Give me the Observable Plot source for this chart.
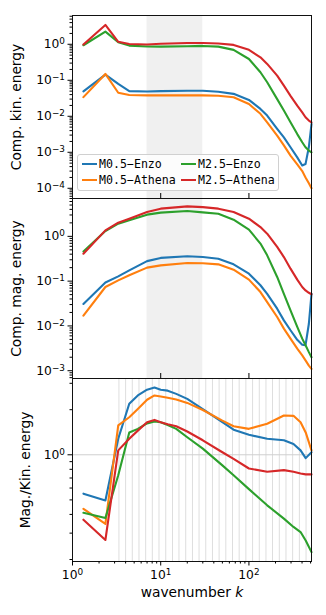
<!DOCTYPE html>
<html><head><meta charset="utf-8">
<script src="https://cdn.jsdelivr.net/npm/d3@7"></script>
<script src="https://cdn.jsdelivr.net/npm/@observablehq/plot@0.6"></script>
<style>
html,body{margin:0;padding:0;background:#fff;}
#wrap{position:relative;width:326px;height:615px;overflow:hidden;}
#wrap svg{display:block;}
#legend{position:absolute;left:77px;top:154px;width:202px;height:37px;box-sizing:border-box;background:rgba(255,255,255,0.8);border:1px solid #d0d0d0;border-radius:3px;font-family:"DejaVu Sans Mono",monospace;font-size:11.6px;color:#000;}
.item{position:absolute;display:flex;align-items:center;height:14px;white-space:nowrap;}
.sw{display:inline-block;width:15px;height:2px;margin-right:2px;}
</style></head><body>
<div id="wrap"></div>
<script>
// ---- data ----
const series = ["M0.5-Enzo", "M0.5-Athena", "M2.5-Enzo", "M2.5-Athena"];
const colors = ["#1f77b4", "#ff7f0e", "#2ca02c", "#d62728"];

const kKin = [1.33, 2.36, 3.3, 4.4, 7, 10, 20, 30, 45, 67, 100, 135, 161, 209, 249, 296, 353, 402, 438, 478, 512];
const kinM05Enzo   = [0.049, 0.144, 0.079, 0.050, 0.049, 0.050, 0.051, 0.051, 0.048, 0.042, 0.0285, 0.016, 0.0105, 0.0045, 0.0026, 0.00138, 0.00072, 0.00043, 0.00047, 0.0014, 0.0061];
const kinM05Athena = [0.034, 0.150, 0.045, 0.039, 0.038, 0.038, 0.038, 0.038, 0.037, 0.0337, 0.022, 0.0117, 0.0068, 0.0029, 0.00155, 0.00081, 0.00046, 0.0003, 0.0002, 0.000137, 0.0001];
const kinM25Enzo   = [0.94, 2.25, 1.14, 0.92, 0.87, 0.86, 0.88, 0.90, 0.86, 0.70, 0.39, 0.167, 0.088, 0.030, 0.0144, 0.0068, 0.0032, 0.0019, 0.00138, 0.00112, 0.001];
const kinM25Athena = [0.98, 3.45, 1.17, 1.02, 0.99, 1.03, 1.08, 1.08, 1.05, 0.96, 0.70, 0.435, 0.285, 0.135, 0.071, 0.037, 0.0198, 0.0129, 0.0094, 0.0076, 0.0068];

const kMag = [1.33, 2.36, 3.3, 4.4, 7, 10, 20, 30, 45, 67, 100, 135, 161, 209, 249, 296, 353, 402, 438, 478, 512];
const magM05Enzo   = [0.031, 0.093, 0.128, 0.174, 0.28, 0.33, 0.36, 0.345, 0.317, 0.237, 0.147, 0.081, 0.052, 0.0243, 0.0133, 0.008, 0.0049, 0.0038, 0.0037, 0.0112, 0.052];
const magM05Athena = [0.017, 0.074, 0.104, 0.135, 0.2, 0.225, 0.254, 0.25, 0.237, 0.18, 0.108, 0.057, 0.034, 0.0158, 0.0087, 0.0052, 0.0031, 0.0022, 0.0017, 0.0013, 0.0011];
const magM25Enzo   = [0.46, 1.31, 1.92, 2.28, 3.05, 3.38, 3.67, 3.43, 3.2, 2.36, 1.41, 0.69, 0.377, 0.124, 0.052, 0.0223, 0.0095, 0.0052, 0.0037, 0.0026, 0.002];
const magM25Athena = [0.41, 1.36, 2.02, 2.48, 3.49, 4.15, 4.67, 4.5, 4.15, 3.49, 2.48, 1.61, 1.15, 0.58, 0.345, 0.19, 0.108, 0.074, 0.062, 0.055, 0.051];

const kRatio = [1.33, 2.36, 3.3, 4.4, 5.5, 7, 8.5, 10, 12, 15, 20, 30, 50, 67, 100, 161, 249, 320, 385, 440, 512];
const ratioM05Enzo   = [0.55, 0.496, 1.28, 2.19, 2.49, 2.72, 2.81, 2.72, 2.68, 2.55, 2.36, 2.02, 1.65, 1.47, 1.36, 1.28, 1.25, 1.18, 1.07, 0.95, 1.04];
const ratioM05Athena = [0.436, 0.346, 1.57, 1.78, 2.02, 2.33, 2.49, 2.45, 2.40, 2.34, 2.22, 1.99, 1.69, 1.55, 1.49, 1.61, 1.83, 1.82, 1.65, 1.41, 1.07];
const ratioM25Enzo   = [0.41, 0.378, 0.73, 1.41, 1.49, 1.62, 1.67, 1.65, 1.58, 1.49, 1.31, 1.1, 0.85, 0.73, 0.59, 0.46, 0.375, 0.33, 0.305, 0.268, 0.224];
const ratioM25Athena = [0.369, 0.27, 1.07, 1.28, 1.45, 1.65, 1.71, 1.65, 1.60, 1.55, 1.43, 1.25, 1.04, 0.94, 0.81, 0.77, 0.79, 0.77, 0.75, 0.74, 0.74];

const shadeRange = [7, 30];
const gridK = [3.36, 4.00, 4.76, 5.67, 6.75, 8.03, 9.56, 11.4, 13.6, 16.1, 19.2, 22.9, 27.2, 32.4, 38.6, 45.9, 54.7, 65.1, 77.5, 92.3, 110, 131, 156, 185, 221, 263, 313, 373, 444];

const xMajor = [1, 10, 100];
const kinMajor = [1e-4, 1e-3, 1e-2, 1e-1, 1];
const magMajor = [1e-3, 1e-2, 1e-1, 1];
const ratioMajor = [1];
const ratioMinor = [0.2, 0.3, 0.4, 0.5, 0.6, 0.7, 0.8, 0.9, 2, 3];
const labels = {kin: "Comp. kin. energy", mag: "Comp. mag. energy", ratio: "Mag./Kin. energy", x: "wavenumber k"};

// ---- helpers ----
function rowsOf(k, arrays) {
  const out = [];
  arrays.forEach((arr, i) => arr.forEach((v, j) => out.push({s: series[i], k: k[j], v})));
  return out;
}
function minorTicks(lo, hi) {
  const t = [];
  for (let e = Math.floor(Math.log10(lo)); e <= Math.ceil(Math.log10(hi)); e++)
    for (let m = 2; m <= 9; m++) { const v = m * Math.pow(10, e); if (v >= lo && v <= hi) t.push(v); }
  return t;
}
const fmtPow = d => "10^" + Math.round(Math.log10(d));
const blank = () => "";
function fixText(svg) {
  d3.select(svg).selectAll("text").each(function () {
    const t = this.textContent;
    const m = /^10\^(-?\d+)$/.exec(t);
    const sel = d3.select(this);
    if (m) {
      sel.text("10");
      sel.append("tspan").attr("dy", "-0.45em").attr("font-size", "0.72em").text(m[1].replace("-", "\u2212"));
    } else if (t === labels.x) {
      sel.text("wavenumber ");
      sel.append("tspan").attr("font-style", "italic").text("k");
    }
  });
}

const W = 326, ML = 72, MR = 15;
const xDomain = [1, 512];
const style = {fontFamily: "DejaVu Sans", fontSize: "12.3px", background: "transparent", overflow: "visible", color: "#000"};

function panel({rows, yDomain, height, mt, mb, yMajor, yMinor, ylabel, labelDx, shade, grid, bottom}) {
  const marks = [];
  if (shade) marks.push(Plot.rect([shadeRange], {x1: d => d[0], x2: d => d[1], fill: "#f0f0f0"}));
  if (grid) {
    marks.push(Plot.ruleX(gridK, {stroke: "#dedede", strokeWidth: 1}));
    marks.push(Plot.ruleY([1], {stroke: "#cfcfcf", strokeWidth: 1}));
  }
  marks.push(Plot.line(rows, {x: "k", y: "v", z: "s", stroke: "s", strokeWidth: 2.1}));
  marks.push(Plot.frame({stroke: "#111", strokeWidth: 1}));
  marks.push(Plot.axisY(yMajor, {tickSize: 4.5, tickPadding: 3, tickFormat: fmtPow, label: null}));
  marks.push(Plot.axisY(yMinor, {tickSize: 2.5, tickFormat: blank, label: null}));
  if (bottom) {
    marks.push(Plot.axisX(xMajor, {anchor: "bottom", tickSize: 4.5, tickPadding: 4, tickFormat: fmtPow, label: null}));
    marks.push(Plot.axisX(minorTicks(1, 512), {anchor: "bottom", tickSize: 2.5, tickFormat: blank, label: null}));
    marks.push(Plot.text([labels.x], {text: d => d, frameAnchor: "bottom", dy: 35, fontSize: 13.8}));
  } else {
    marks.push(Plot.axisX([10, 100], {anchor: "bottom", tickSize: -5, tickFormat: blank, label: null}));
  }
  marks.push(Plot.text([ylabel], {text: d => d, frameAnchor: "left", textAnchor: "middle", dx: labelDx, rotate: -90, fontSize: 13.8}));
  const svg = Plot.plot({
    width: W, height, marginLeft: ML, marginRight: MR, marginTop: mt, marginBottom: mb,
    style,
    x: {type: "log", domain: xDomain},
    y: {type: "log", domain: yDomain},
    color: {domain: series, range: colors},
    marks
  });
  fixText(svg);
  return svg;
}

const wrap = document.getElementById("wrap");
const kinDomain = [5.2e-5, 6.3];
const magDomain = [6.7e-4, 7.0];
const ratioDomain = [0.194, 3.23];

wrap.append(panel({
  rows: rowsOf(kKin, [kinM05Enzo, kinM05Athena, kinM25Enzo, kinM25Athena]),
  yDomain: kinDomain, height: 198, mt: 15, mb: 0,
  yMajor: kinMajor, yMinor: minorTicks(...kinDomain), ylabel: labels.kin, labelDx: -56, shade: true
}));
wrap.append(panel({
  rows: rowsOf(kMag, [magM05Enzo, magM05Athena, magM25Enzo, magM25Athena]),
  yDomain: magDomain, height: 180, mt: 0, mb: 0,
  yMajor: magMajor, yMinor: minorTicks(...magDomain), ylabel: labels.mag, labelDx: -56, shade: true
}));
wrap.append(panel({
  rows: rowsOf(kRatio, [ratioM05Enzo, ratioM05Athena, ratioM25Enzo, ratioM25Athena]),
  yDomain: ratioDomain, height: 237, mt: 0, mb: 54,
  yMajor: ratioMajor, yMinor: ratioMinor, ylabel: labels.ratio, labelDx: -46.5, grid: true, bottom: true
}));

// legend (two columns, column-major order like the original)
const legend = document.createElement("div");
legend.id = "legend";
const pos = [[4, 2], [4, 18], [103, 2], [103, 18]];
series.forEach((s, i) => {
  const it = document.createElement("div");
  it.className = "item";
  it.style.left = pos[i][0] + "px";
  it.style.top = pos[i][1] + "px";
  const sw = document.createElement("span");
  sw.className = "sw";
  sw.style.background = colors[i];
  const tx = document.createElement("span");
  tx.textContent = s.replace("-", "\u2212");
  it.append(sw, tx);
  legend.append(it);
});
wrap.append(legend);
</script></body></html>
